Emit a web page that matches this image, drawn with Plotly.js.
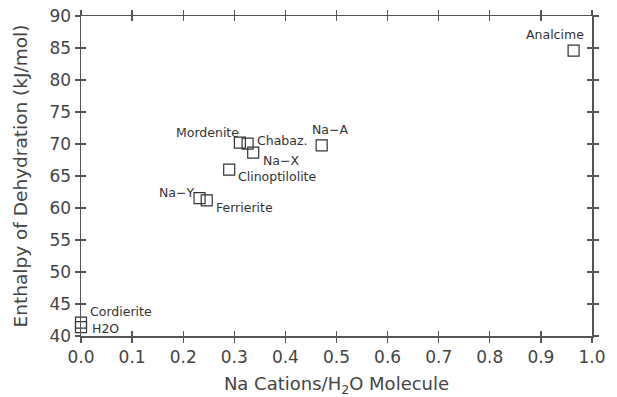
<!DOCTYPE html>
<html>
<head>
<meta charset="utf-8">
<script src="https://cdn.plot.ly/plotly-3.0.1.min.js"></script>
<style>html,body{margin:0;padding:0;background:#fff;}#chart{width:617px;height:397px;}</style>
</head>
<body>
<div id="chart"></div>
<script>
// Data
const names = ["Analcime", "Na\u2212A", "Mordenite", "Chabaz.", "Na\u2212X", "Clinoptilolite", "Na\u2212Y", "Ferrierite", "Cordierite", "H2O"];
const naPerWater = [0.964, 0.471, 0.311, 0.326, 0.337, 0.290, 0.232, 0.246, 0.0, 0.0];
const enthalpy = [84.6, 69.8, 70.2, 70.05, 68.65, 66.0, 61.55, 61.2, 42.1, 41.4];
const xTicks = [0.0, 0.1, 0.2, 0.3, 0.4, 0.5, 0.6, 0.7, 0.8, 0.9, 1.0];
const xTickText = ["0.0", "0.1", "0.2", "0.3", "0.4", "0.5", "0.6", "0.7", "0.8", "0.9", "1.0"];
const yTicks = [40, 45, 50, 55, 60, 65, 70, 75, 80, 85, 90];

// Label placement (style only)
const labelPlace = [
  {xanchor: "right", xshift: 12, yshift: 16},
  {xanchor: "center", xshift: 8, yshift: 16},
  {xanchor: "right", xshift: 1, yshift: 10},
  {xanchor: "left", xshift: 7, yshift: 3},
  {xanchor: "left", xshift: 8, yshift: -8},
  {xanchor: "left", xshift: 7, yshift: -7},
  {xanchor: "right", xshift: -4, yshift: 6},
  {xanchor: "left", xshift: 7, yshift: -7},
  {xanchor: "left", xshift: 7, yshift: 11},
  {xanchor: "left", xshift: 9, yshift: -1}
];

const ink = "#333333";
const axisCol = "#555555";
const font = "DejaVu Sans, sans-serif";

const trace = {
  x: naPerWater,
  y: enthalpy,
  mode: "markers",
  type: "scatter",
  marker: {symbol: "square-open", size: 11, color: ink, line: {width: 1.2, color: ink}},
  hoverinfo: "skip",
  cliponaxis: false
};
const ghost = {x: [], y: [], xaxis: "x2", yaxis: "y2", type: "scatter", mode: "markers", hoverinfo: "skip"};

const annotations = names.map((n, i) => ({
  x: naPerWater[i], y: enthalpy[i], xref: "x", yref: "y",
  text: n, showarrow: false,
  xanchor: labelPlace[i].xanchor, yanchor: "middle",
  xshift: labelPlace[i].xshift, yshift: labelPlace[i].yshift,
  font: {family: font, size: 12.5, color: ink}
}));

const axCommon = {
  showgrid: false, zeroline: false, showline: true, linecolor: axisCol, linewidth: 1.5,
  tickcolor: axisCol, tickwidth: 1.3, ticklen: 5, mirror: "ticks"
};

const layout = {
  width: 617, height: 397,
  margin: {l: 81, r: 25, t: 16, b: 61, pad: 0},
  paper_bgcolor: "#fff", plot_bgcolor: "#fff",
  showlegend: false,
  font: {family: font, color: ink},
  xaxis: Object.assign({}, axCommon, {
    range: [0, 1.0], tickmode: "array", tickvals: xTicks, ticktext: xTickText,
    ticks: "outside", tickfont: {family: font, size: 17, color: "#444"},
    title: {text: "Na Cations/H<sub>2</sub>O Molecule", font: {family: font, size: 18, color: "#444"}, standoff: 11}
  }),
  yaxis: Object.assign({}, axCommon, {
    range: [40, 90], tickmode: "array", tickvals: yTicks,
    ticks: "outside", tickfont: {family: font, size: 17, color: "#444"},
    title: {text: "Enthalpy of Dehydration (kJ/mol)", font: {family: font, size: 18.5, color: "#444"}, standoff: 17}
  }),
  xaxis2: Object.assign({}, axCommon, {
    range: [0, 1.0], tickmode: "array", tickvals: xTicks, overlaying: "x", anchor: "y2",
    ticks: "inside", showticklabels: false
  }),
  yaxis2: Object.assign({}, axCommon, {
    range: [40, 90], tickmode: "array", tickvals: yTicks, overlaying: "y", anchor: "x2",
    ticks: "inside", showticklabels: false
  }),
  annotations: annotations
};

Plotly.newPlot("chart", [trace, ghost], layout, {staticPlot: true, displayModeBar: false});
</script>
</body>
</html>
